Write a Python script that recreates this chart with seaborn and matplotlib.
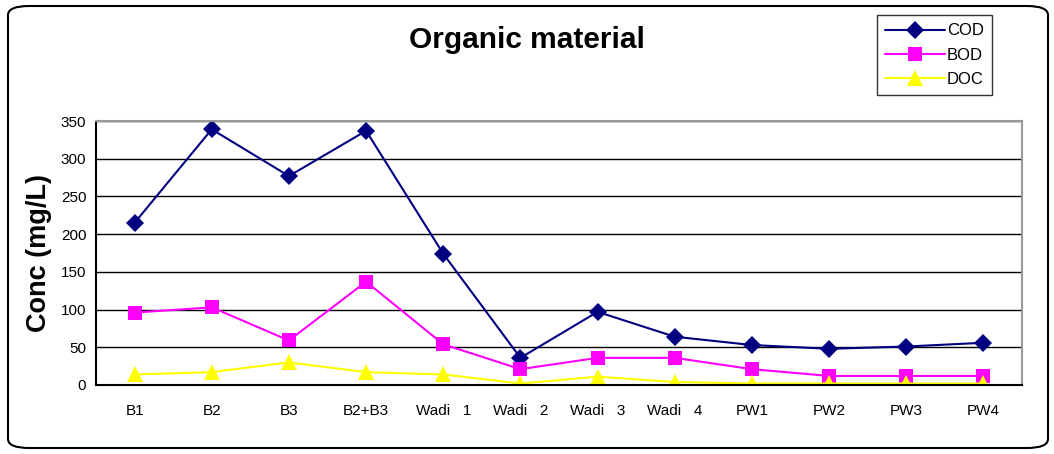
import seaborn as sns
import matplotlib.pyplot as plt
import pandas as pd
from matplotlib.patches import FancyBboxPatch
from matplotlib.lines import Line2D

# данные
sites = ["B1", "B2", "B3", "B2+B3", "Wadi   1", "Wadi   2", "Wadi   3", "Wadi   4",
         "PW1", "PW2", "PW3", "PW4"]
cod = [215, 339, 277, 337, 174, 36, 97, 64, 53, 48, 51, 56]
bod = [96, 103, 59, 137, 54, 21, 36, 36, 21, 12, 12, 12]
doc = [14, 17, 30, 17, 14, 2, 11, 4, 2, 2, 2, 2]

df = pd.DataFrame({
    "pos": list(range(len(sites))) * 3,
    "conc": cod + bod + doc,
    "param": ["COD"] * len(sites) + ["BOD"] * len(sites) + ["DOC"] * len(sites),
})

sns.set_style("white")
plt.rcParams['font.family'] = ['Liberation Sans', 'DejaVu Sans']
plt.rcParams['text.color'] = 'black'
plt.rcParams['xtick.color'] = 'black'
plt.rcParams['ytick.color'] = 'black'
plt.rcParams['axes.labelcolor'] = 'black'

fig = plt.figure(figsize=(10.54, 4.54), dpi=100)
ax = fig.add_axes([96 / 1054, 69 / 454, 926 / 1054, 264 / 454])

palette = {"COD": "#000080", "BOD": "#FF00FF", "DOC": "#FFFF00"}
markers = {"COD": "D", "BOD": "s", "DOC": "^"}
sizes = {"COD": 9, "BOD": 10, "DOC": 11}
for k in ["COD", "BOD", "DOC"]:
    sns.lineplot(data=df[df.param == k], x="pos", y="conc", color=palette[k],
                 marker=markers[k], markersize=sizes[k], markeredgewidth=0,
                 linewidth=1.5, ax=ax)

ax.set_xlim(-0.5, len(sites) - 0.5)
ax.set_ylim(0, 350)
ax.set_yticks(range(0, 351, 50))
ax.yaxis.grid(True, color="black", linewidth=1)
ax.set_axisbelow(True)
ax.set_xticks(range(len(sites)))
ax.set_xticklabels(sites, fontsize=11)
ax.set_xticks([i - 0.5 for i in range(len(sites) + 1)], minor=True)
ax.tick_params(axis="x", which="major", length=0, pad=14)
ax.tick_params(axis="x", which="minor", length=5, width=1, color="black", direction="out")
ax.tick_params(axis="y", length=5, width=1, color="black", direction="out", labelsize=11, pad=2)
for s in ["top", "right"]:
    ax.spines[s].set_color("#999999")
    ax.spines[s].set_linewidth(1.5)
for s in ["left", "bottom"]:
    ax.spines[s].set_color("black")
    ax.spines[s].set_linewidth(1.5)
ax.set_xlabel("")
ax.set_ylabel("Conc (mg/L)", fontsize=19.5, fontweight="bold", labelpad=6)

fig.text(527 / 1054, 1 - 40 / 454, "Organic material", fontsize=21.5, fontweight="bold",
         ha="center", va="center")

# легенда
handles = [Line2D([], [], color=palette[k], marker=markers[k], markersize=sizes[k],
                  markeredgewidth=0, linewidth=1.5) for k in ["COD", "BOD", "DOC"]]
leg = fig.legend(handles, ["COD", "BOD", "DOC"], loc="upper left",
                 bbox_to_anchor=(877 / 1054, 1 - 15 / 454), fontsize=12,
                 frameon=True, fancybox=False, edgecolor="black", handlelength=3.6,
                 handletextpad=0.1, labelspacing=0.55, borderpad=0.5,
                 borderaxespad=0)
leg.get_frame().set_linewidth(1)

# рамка вокруг всего графика
border = FancyBboxPatch((8 / 1054, 6 / 454), 1040 / 1054, 442 / 454,
                        boxstyle="round,pad=0,rounding_size=0.02",
                        transform=fig.transFigure, fill=False,
                        edgecolor="black", linewidth=1.5)
fig.patches.append(border)

fig.savefig("out.png", dpi=100)
